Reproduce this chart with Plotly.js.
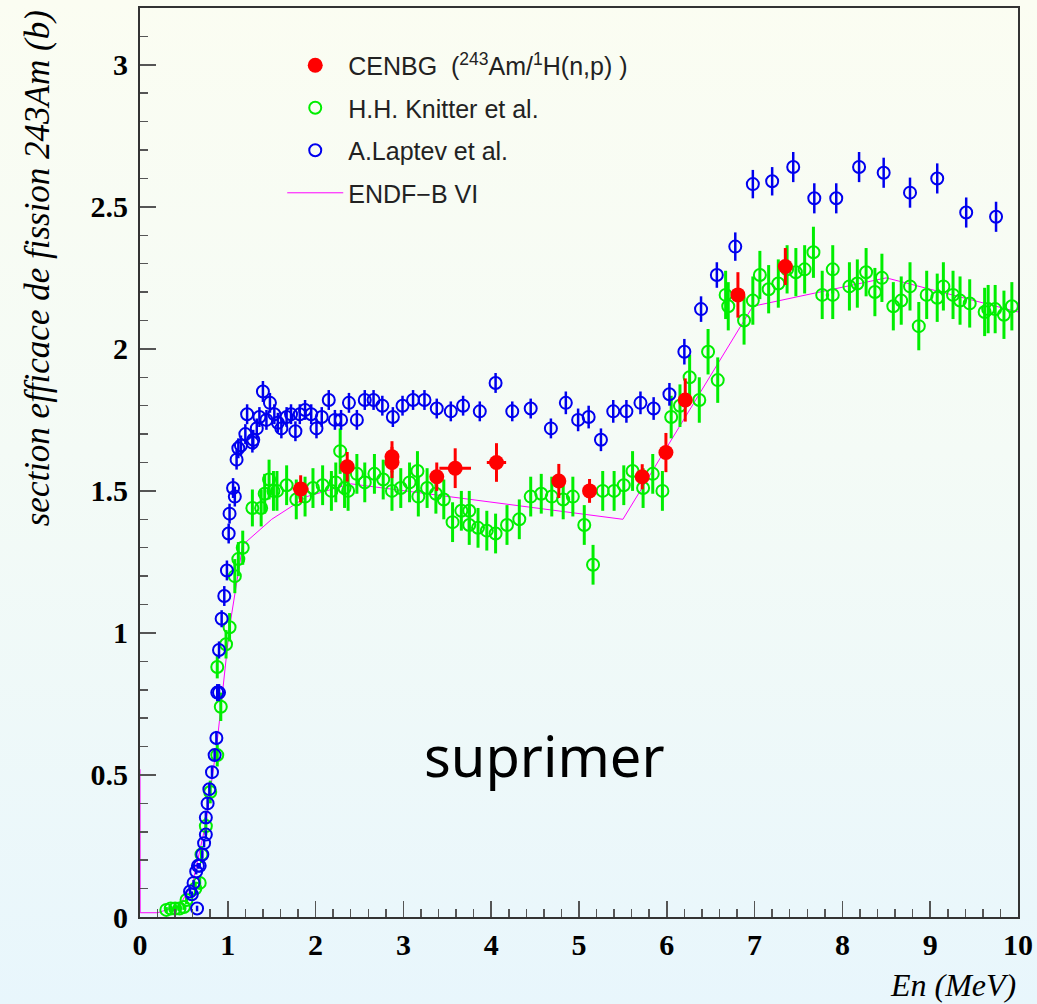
<!DOCTYPE html>
<html>
<head>
<meta charset="utf-8">
<script src="https://cdn.plot.ly/plotly-3.0.1.min.js"></script>
<style>
html,body{margin:0;padding:0;}
body{width:1037px;height:1004px;background:linear-gradient(to bottom,#fbfdf2 0%,#f4fbf6 45%,#e8f6fc 100%);}
#chart{width:1037px;height:1004px;}
</style>
</head>
<body>
<div id="chart"></div>
<script>
// CENBG (243Am/1H(n,p))
const cenbgE    = [1.83, 2.36, 2.87, 2.87, 3.38, 3.59, 4.06, 4.77, 5.12, 5.72, 5.99, 6.21, 6.81, 7.35];
const cenbgSig  = [1.507, 1.585, 1.62, 1.60, 1.55, 1.58, 1.60, 1.535, 1.50, 1.55, 1.635, 1.82, 2.19, 2.29];
const cenbgErr  = [0.048, 0.052, 0.055, 0.055, 0.05, 0.07, 0.068, 0.06, 0.042, 0.044, 0.069, 0.076, 0.08, 0.065];
const cenbgXErr = [0.09, 0, 0, 0, 0, 0.18, 0.11, 0, 0, 0, 0, 0, 0, 0];

// H.H. Knitter et al.
const knitE = [0.30, 0.35, 0.40, 0.45, 0.50, 0.53, 0.63, 0.68, 0.70, 0.75, 0.80, 0.88, 0.92, 0.88, 0.98, 1.02, 1.08, 1.12,
  1.17, 1.28, 1.38, 1.42, 1.47, 1.52, 1.56, 1.67, 1.78, 1.88, 1.97, 2.08, 2.18, 2.23, 2.28, 2.33, 2.37, 2.47, 2.56, 2.67,
  2.77, 2.87, 2.97, 3.07, 3.16, 3.17, 3.27, 3.37, 3.46, 3.56, 3.66, 3.75, 3.75, 3.85, 3.95, 4.05, 4.18, 4.32, 4.45, 4.57,
  4.69, 4.82, 4.93, 5.06, 5.16, 5.27, 5.40, 5.51, 5.61, 5.73, 5.84, 5.95, 6.05, 6.15, 6.26, 6.37, 6.47, 6.58, 6.67, 6.70,
  6.88, 6.98, 7.06, 7.16, 7.27, 7.37, 7.47, 7.57, 7.67, 7.77, 7.89, 7.89, 8.08, 8.17, 8.27, 8.37, 8.45, 8.58, 8.67, 8.77,
  8.87, 8.96, 9.08, 9.15, 9.26, 9.34, 9.45, 9.62, 9.66, 9.74, 9.84, 9.93];
const knitSig = [0.025, 0.03, 0.03, 0.03, 0.035, 0.06, 0.10, 0.12, 0.22, 0.32, 0.44, 0.57, 0.74, 0.88, 0.96, 1.02, 1.20, 1.26,
  1.30, 1.44, 1.44, 1.49, 1.54, 1.50, 1.50, 1.52, 1.47, 1.48, 1.51, 1.52, 1.50, 1.53, 1.64, 1.51, 1.50, 1.56, 1.53, 1.56,
  1.54, 1.50, 1.51, 1.53, 1.57, 1.48, 1.51, 1.49, 1.47, 1.39, 1.43, 1.43, 1.38, 1.37, 1.36, 1.35, 1.38, 1.40, 1.48, 1.49,
  1.48, 1.47, 1.48, 1.38, 1.24, 1.50, 1.50, 1.52, 1.57, 1.51, 1.56, 1.50, 1.76, 1.80, 1.90, 1.82, 1.99, 1.89, 2.19, 2.15,
  2.10, 2.17, 2.26, 2.21, 2.23, 2.28, 2.27, 2.28, 2.34, 2.19, 2.28, 2.19, 2.22, 2.23, 2.27, 2.20, 2.25, 2.15, 2.17, 2.22,
  2.08, 2.19, 2.18, 2.22, 2.19, 2.17, 2.16, 2.13, 2.14, 2.14, 2.12, 2.15];
const knitErr = [0.01, 0.01, 0.01, 0.01, 0.01, 0.015, 0.02, 0.02, 0.03, 0.03, 0.04, 0.04, 0.05, 0.04, 0.05, 0.05, 0.06, 0.06,
  0.06, 0.065, 0.065, 0.07, 0.07, 0.07, 0.07, 0.07, 0.07, 0.07, 0.07, 0.07, 0.07, 0.07, 0.08, 0.07, 0.07, 0.07, 0.07, 0.07,
  0.07, 0.07, 0.07, 0.07, 0.07, 0.07, 0.07, 0.07, 0.07, 0.07, 0.07, 0.07, 0.07, 0.07, 0.07, 0.07, 0.07, 0.07, 0.07, 0.07,
  0.07, 0.07, 0.07, 0.07, 0.07, 0.07, 0.07, 0.07, 0.07, 0.07, 0.07, 0.07, 0.075, 0.075, 0.08, 0.08, 0.08, 0.08, 0.085, 0.085,
  0.085, 0.085, 0.085, 0.085, 0.085, 0.085, 0.085, 0.085, 0.09, 0.085, 0.085, 0.085, 0.085, 0.085, 0.085, 0.085, 0.085, 0.085, 0.085, 0.085,
  0.085, 0.085, 0.085, 0.085, 0.085, 0.085, 0.085, 0.085, 0.085, 0.085, 0.085, 0.085];

// A. Laptev et al.
const lapE = [0.57, 0.59, 0.61, 0.64, 0.65, 0.66, 0.68, 0.71, 0.73, 0.75, 0.75, 0.77, 0.79, 0.82, 0.85, 0.87, 0.88, 0.90, 0.90,
  0.93, 0.96, 0.99, 1.01, 1.02, 1.06, 1.08, 1.10, 1.12, 1.15, 1.20, 1.22, 1.28, 1.29, 1.33, 1.36, 1.40, 1.44, 1.48, 1.53,
  1.57, 1.61, 1.67, 1.72, 1.77, 1.82, 1.88, 1.95, 2.01, 2.07, 2.15, 2.22, 2.29, 2.38, 2.47, 2.56, 2.66, 2.76, 2.88, 2.99,
  3.11, 3.24, 3.38, 3.54, 3.68, 3.87, 4.05, 4.24, 4.45, 4.68, 4.85, 4.99, 5.11, 5.25, 5.39, 5.54, 5.70, 5.85, 6.03, 6.20,
  6.39, 6.57, 6.78, 6.98, 7.20, 7.44, 7.68, 7.93, 8.19, 8.47, 8.77, 9.08, 9.41, 9.75];
const lapSig = [0.09, 0.08, 0.12, 0.16, 0.03, 0.18, 0.18, 0.22, 0.26, 0.29, 0.35, 0.40, 0.45, 0.51, 0.57, 0.63, 0.79, 0.79, 0.94,
  1.05, 1.13, 1.22, 1.35, 1.42, 1.51, 1.48, 1.61, 1.65, 1.66, 1.70, 1.77, 1.67, 1.68, 1.72, 1.76, 1.85, 1.75, 1.81, 1.77,
  1.74, 1.72, 1.76, 1.77, 1.71, 1.77, 1.785, 1.77, 1.72, 1.76, 1.82, 1.75, 1.75, 1.81, 1.75, 1.82, 1.82, 1.80, 1.76, 1.80,
  1.82, 1.82, 1.79, 1.78, 1.80, 1.78, 1.88, 1.78, 1.79, 1.72, 1.81, 1.75, 1.76, 1.68, 1.78, 1.78, 1.81, 1.79, 1.84, 1.99,
  2.14, 2.26, 2.36, 2.58, 2.59, 2.64, 2.53, 2.53, 2.64, 2.62, 2.55, 2.60, 2.48, 2.465];
const lapErr = [0.01, 0.01, 0.01, 0.01, 0.01, 0.01, 0.01, 0.015, 0.015, 0.015, 0.02, 0.02, 0.02, 0.02, 0.02, 0.025, 0.03, 0.03, 0.03,
  0.03, 0.035, 0.035, 0.035, 0.035, 0.035, 0.035, 0.035, 0.035, 0.035, 0.035, 0.035, 0.035, 0.035, 0.035, 0.035, 0.037, 0.035, 0.035, 0.035,
  0.035, 0.035, 0.035, 0.035, 0.035, 0.035, 0.035, 0.035, 0.035, 0.035, 0.035, 0.035, 0.035, 0.035, 0.035, 0.035, 0.035, 0.035, 0.035, 0.035,
  0.035, 0.035, 0.035, 0.035, 0.035, 0.035, 0.035, 0.035, 0.035, 0.035, 0.04, 0.04, 0.04, 0.04, 0.04, 0.04, 0.04, 0.04, 0.04, 0.045,
  0.045, 0.045, 0.05, 0.05, 0.05, 0.053, 0.053, 0.053, 0.053, 0.053, 0.053, 0.053, 0.053, 0.053];

// ENDF-B VI evaluation
const endfE   = [0, 0.002, 0.2, 0.45, 0.6, 0.75, 0.88, 0.95, 1.02, 1.17, 1.5, 1.9, 2.4, 5.5, 6.98, 8.5, 10];
const endfSig = [0.52, 0.015, 0.015, 0.04, 0.12, 0.33, 0.62, 0.82, 1.02, 1.31, 1.40, 1.48, 1.525, 1.40, 2.15, 2.25, 2.13];

const legendNames = ['CENBG  (<sup>243</sup>Am/<sup>1</sup>H(n,p) )', 'H.H. Knitter et al.', 'A.Laptev et al.', 'ENDF\u2212B VI'];

const traces = [
  {x: endfE, y: endfSig, type: 'scatter', mode: 'lines', name: legendNames[3], legendrank: 4, legendgroup: 'd',
   line: {color: '#ff00ff', width: 1}},
  {x: knitE, y: knitSig, type: 'scatter', mode: 'markers', name: legendNames[1], legendrank: 2, legendgroup: 'b',
   marker: {symbol: 'circle-open', size: 12, color: '#00ee00', line: {width: 2, color: '#00ee00'}},
   error_y: {type: 'data', array: knitErr, visible: true, color: '#00ee00', thickness: 3, width: 0}},
  {x: lapE, y: lapSig, type: 'scatter', mode: 'markers', name: legendNames[2], legendrank: 3, legendgroup: 'c',
   marker: {symbol: 'circle-open', size: 12, color: '#0000ee', line: {width: 2, color: '#0000ee'}},
   error_y: {type: 'data', array: lapErr, visible: true, color: '#0000ee', thickness: 2.5, width: 0}},
  {x: cenbgE, y: cenbgSig, type: 'scatter', mode: 'markers', name: legendNames[0], legendrank: 1, legendgroup: 'a',
   marker: {symbol: 'circle', size: 15, color: '#ff0000'},
   error_y: {type: 'data', array: cenbgErr, visible: true, color: '#ff0000', thickness: 3, width: 0},
   error_x: {type: 'data', array: cenbgXErr, visible: true, color: '#ff0000', thickness: 3, width: 0}}
];

const tickFont = {family: 'Liberation Serif, Times New Roman, serif', size: 30, color: '#000', weight: 'bold'};

const layout = {
  width: 1037, height: 1004, autosize: false,
  margin: {l: 140, r: 19, t: 8, b: 87},
  paper_bgcolor: 'rgba(0,0,0,0)', plot_bgcolor: 'rgba(0,0,0,0)',
  showlegend: true,
  legend: {x: 0.162, y: 0.962, xanchor: 'left', yanchor: 'top', bgcolor: 'rgba(0,0,0,0)',
    font: {family: 'Liberation Sans, Arial, sans-serif', size: 25, color: '#222'},
    tracegroupgap: 7, itemwidth: 56, traceorder: 'grouped'},
  xaxis: {range: [0, 10], dtick: 1, tick0: 0, ticks: 'inside', ticklen: 16, tickwidth: 1.5, tickcolor: '#555',
    minor: {dtick: 0.2, ticks: 'inside', ticklen: 8, tickwidth: 1.5, tickcolor: '#555'},
    showline: true, linecolor: '#333', linewidth: 2, mirror: true, showgrid: false, zeroline: false,
    tickfont: tickFont, ticklabelstandoff: 0},
  yaxis: {range: [0, 3.2], dtick: 0.5, tick0: 0, ticks: 'inside', ticklen: 16, tickwidth: 1.5, tickcolor: '#555',
    minor: {dtick: 0.1, ticks: 'inside', ticklen: 8, tickwidth: 1.5, tickcolor: '#555'},
    showline: true, linecolor: '#333', linewidth: 2, mirror: true, showgrid: false, zeroline: false,
    tickfont: tickFont, ticklabelstandoff: 4},
  annotations: [
    {xref: 'paper', yref: 'paper', x: -0.117, y: 1, xanchor: 'center', yanchor: 'top', textangle: -90, showarrow: false,
     text: 'section efficace de fission 243Am (b)',
     font: {family: 'Liberation Serif, Times New Roman, serif', size: 35, color: '#000', style: 'italic'}},
    {xref: 'paper', yref: 'paper', x: 1, y: -0.075, xanchor: 'right', yanchor: 'middle', showarrow: false,
     text: 'En (MeV)',
     font: {family: 'Liberation Serif, Times New Roman, serif', size: 32, color: '#000', style: 'italic'}},
    {xref: 'x', yref: 'y', x: 4.61, y: 0.57, xanchor: 'center', yanchor: 'middle', showarrow: false,
     text: 'suprimer',
     font: {family: 'Comic Sans MS, Noto Sans, sans-serif', size: 56, color: '#000'}}
  ]
};

Plotly.newPlot('chart', traces, layout, {displayModeBar: false, staticPlot: true});
</script>
</body>
</html>
